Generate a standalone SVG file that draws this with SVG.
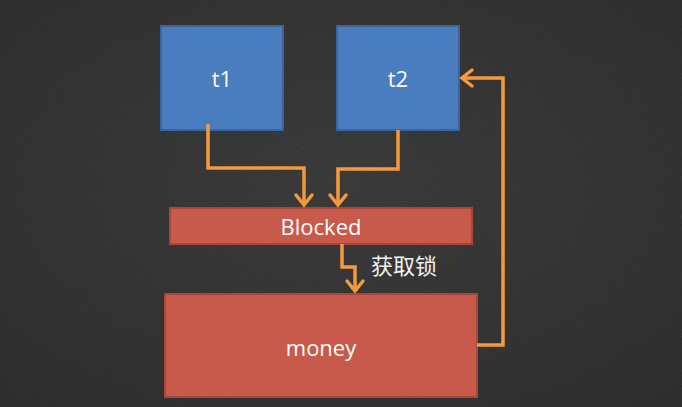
<svg xmlns="http://www.w3.org/2000/svg" width="682" height="407" viewBox="0 0 682 407">
<defs>
<radialGradient id="bg" cx="50%" cy="45%" r="75%">
<stop offset="0" stop-color="#333333"/>
<stop offset="1" stop-color="#262626"/>
</radialGradient>
<filter id="chalk" x="0" y="0" width="100%" height="100%">
<feTurbulence type="fractalNoise" baseFrequency="0.9" numOctaves="2" seed="3" result="n"/>
<feColorMatrix type="matrix" values="0 0 0 0 1  0 0 0 0 1  0 0 0 0 1  0 0 0 0.07 0" in="n"/>
<feComposite operator="in" in2="SourceGraphic"/>
</filter>
<marker id="arr" markerWidth="16" markerHeight="22" viewBox="-13 -11 16 22" refX="0" refY="0" orient="auto" markerUnits="userSpaceOnUse">
<path d="M-10,-8 L0,0 L-10,8" fill="none" stroke="#f59a3c" stroke-width="3.5" stroke-linecap="round" stroke-linejoin="miter"/>
</marker>
</defs>
<style>
.blue{fill:#4a7dbf;stroke:#3a659c;stroke-width:2}
.red{fill:#c85a4b;stroke:#a8463b;stroke-width:2}
.lbl{font-family:"Open Sans","Liberation Sans",sans-serif;font-size:22px;fill:#ffffff;text-anchor:middle;dominant-baseline:central}
.cn{font-family:"Noto Sans CJK SC",sans-serif;font-size:22px;fill:#f2f2f2}
.conn{fill:none;stroke:#f59a3c;stroke-width:3.5;stroke-linejoin:miter}
</style>
<rect width="682" height="407" fill="url(#bg)"/>
<rect width="682" height="407" fill="#fff" filter="url(#chalk)"/>
<g id="t1"><rect class="blue" x="161" y="26" width="122" height="104"/><text class="lbl" x="222" y="78">t1</text></g>
<g id="t2"><rect class="blue" x="337" y="26" width="122" height="104"/><text class="lbl" x="398" y="78">t2</text></g>
<g id="blocked"><rect class="red" x="170" y="208" width="302" height="36"/><text class="lbl" x="321" y="226">Blocked</text></g>
<g id="money"><rect class="red" x="165" y="294" width="312" height="103"/><text class="lbl" x="321" y="347">money</text></g>
<g id="connectors">
<path class="conn" d="M208,124 V168 H304 V205" marker-end="url(#arr)"/>
<path class="conn" d="M398,130 V169 H338 V205" marker-end="url(#arr)"/>
<path class="conn" d="M342,244 V267 H355 V291" marker-end="url(#arr)"/>
<path class="conn" d="M477,345 H503 V78 H462" marker-end="url(#arr)"/>
<text class="cn" x="371" y="274">获取锁</text>
</g>
</svg>
